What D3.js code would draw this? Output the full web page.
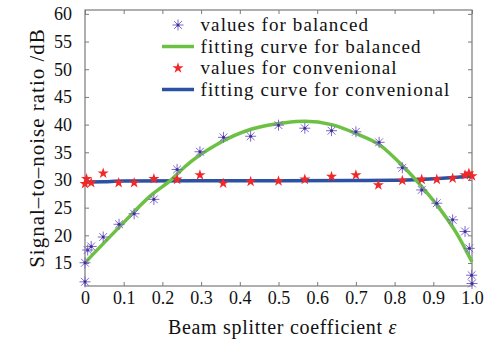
<!DOCTYPE html>
<html>
<head>
<meta charset="utf-8">
<script src="https://cdn.jsdelivr.net/npm/d3@7"></script>
<style>
  body { margin: 0; background: #fff; }
  text { font-family: "Liberation Serif", "Times New Roman", serif; fill: #111; }
</style>
</head>
<body>
<svg id="chart" width="500" height="340"></svg>
<script>
// measured values, balanced detection
const balX = [0, 0, 0.007, 0.016, 0.047, 0.088, 0.127, 0.178, 0.238, 0.297, 0.358, 0.428, 0.5, 0.568, 0.637, 0.70, 0.76, 0.82, 0.87, 0.909, 0.95, 0.982, 0.993, 0.999, 1.0];
const balY = [11.6, 15.05, 17.35, 18.0, 19.7, 22.0, 23.9, 26.5, 31.9, 35.1, 37.7, 37.9, 39.9, 39.35, 38.9, 38.7, 36.8, 32.2, 28.2, 25.8, 22.8, 20.7, 17.65, 12.8, 11.3];

// measured values, conventional detection
const convX = [0, 0.004, 0.016, 0.047, 0.087, 0.127, 0.178, 0.238, 0.297, 0.357, 0.428, 0.5, 0.568, 0.637, 0.70, 0.758, 0.82, 0.87, 0.909, 0.95, 0.982, 0.992, 1.0];
const convY = [29.3, 30.2, 29.5, 31.2, 29.5, 29.5, 30.2, 30.1, 30.9, 29.4, 29.7, 29.8, 30.1, 30.6, 30.9, 29.1, 29.9, 30.1, 30.1, 30.3, 30.9, 31.2, 30.7];

// fitting curves
const fitBalX = [0, 0.086, 0.172, 0.224, 0.258, 0.345, 0.431, 0.517, 0.568, 0.637, 0.70, 0.762, 0.82, 0.87, 0.909, 0.96, 1.0];
const fitBalY = [15.05, 21.3, 27.3, 30.1, 32.4, 36.6, 39.2, 40.35, 40.6, 40.0, 38.4, 36.3, 32.6, 28.8, 25.5, 20.4, 15.2];
const fitConvX = [0, 0.05, 0.1, 0.3, 0.5, 0.7, 0.8, 0.85, 0.9, 0.95, 1.0];
const fitConvY = [29.6, 29.7, 29.8, 29.85, 29.85, 29.9, 29.95, 30.05, 30.2, 30.45, 30.7];

const xTicks = [0, 0.1, 0.2, 0.3, 0.4, 0.5, 0.6, 0.7, 0.8, 0.9, 1.0];
const xTickLabels = ["0", "0.1", "0.2", "0.3", "0.4", "0.5", "0.6", "0.7", "0.8", "0.9", "1.0"];
const yTicks = [15, 20, 25, 30, 35, 40, 45, 50, 55, 60];

const legendLabels = ["values for balanced", "fitting curve for balanced", "values for convenional", "fitting curve for convenional"];

const colBal = "#7d68cc", colBalDot = "#3f2f8f", colGreen = "#6cc144", colRed = "#f02828", colBlue = "#2b51a3", colAxis = "#7a7a7a";

const margin = {top: 10, right: 28, bottom: 54, left: 85};
const width = 500, height = 340;

const svg = d3.select("#chart");

const x = d3.scaleLinear().domain([0, 1]).range([margin.left, width - margin.right]);
const y = d3.scaleLinear().domain([10.85, 60.7]).range([height - margin.bottom, margin.top]);

const zip = (a, b) => a.map((v, i) => [v, b[i]]);

// box + inward ticks on every side
const g = svg.append("g");
g.append("rect")
    .attr("x", x(0)).attr("y", y.range()[1])
    .attr("width", x(1) - x(0)).attr("height", y.range()[0] - y.range()[1])
    .attr("fill", "none").attr("stroke", colAxis).attr("stroke-width", 1.2);

const bottomAxis = d3.axisBottom(x).tickValues(xTicks).tickSize(-4).tickFormat((d, i) => xTickLabels[i]);
const topAxis = d3.axisTop(x).tickValues(xTicks).tickSize(-4).tickFormat("");
const leftAxis = d3.axisLeft(y).tickValues(yTicks).tickSize(-4);
const rightAxis = d3.axisRight(y).tickValues(yTicks).tickSize(-4).tickFormat("");

function styleAxis(sel){
    sel.select(".domain").remove();
    sel.selectAll(".tick line").attr("stroke", colAxis);
    sel.selectAll(".tick text").attr("font-family", null).attr("font-size", 18).attr("fill", "#111");
}

g.append("g").attr("transform", `translate(0,${y.range()[0]})`).call(bottomAxis).call(styleAxis)
    .selectAll(".tick text").attr("dy", "0.85em");
g.append("g").attr("transform", `translate(0,${y.range()[1]})`).call(topAxis).call(styleAxis);
g.append("g").attr("transform", `translate(${x(0)},0)`).call(leftAxis).call(styleAxis)
    .selectAll(".tick text").attr("x", -13);
g.append("g").attr("transform", `translate(${x(1)},0)`).call(rightAxis).call(styleAxis);

// axis titles
svg.append("text")
    .attr("x", (x(0) + x(1)) / 2 + 4).attr("y", 334)
    .attr("text-anchor", "middle").attr("font-size", 20).attr("letter-spacing", 0.7)
    .html('Beam splitter coefficient <tspan font-style="italic">ε</tspan>');
svg.append("text")
    .attr("transform", `translate(44,${(y.range()[0] + y.range()[1]) / 2}) rotate(-90)`)
    .attr("text-anchor", "middle").attr("font-size", 21).attr("letter-spacing", 1)
    .text("Signal–to–noise ratio /dB");

// fitting curves
const line = d3.line().x(d => x(d[0])).y(d => y(d[1])).curve(d3.curveMonotoneX);

const plot = svg.append("g");
plot.append("path").datum(zip(fitConvX, fitConvY))
    .attr("d", line).attr("fill", "none").attr("stroke", colBlue).attr("stroke-width", 3.5);
plot.append("path").datum(zip(fitBalX, fitBalY))
    .attr("d", line).attr("fill", "none").attr("stroke", colGreen).attr("stroke-width", 3.5);

// markers
const star = d3.symbol().type(d3.symbolStar).size(38);

function asterisk(sel, r){
    const a = r * Math.SQRT1_2;
    sel.append("path")
        .attr("d", `M${-r},0H${r}M0,${-r}V${r}M${-a},${-a}L${a},${a}M${-a},${a}L${a},${-a}`)
        .attr("stroke", colBal).attr("stroke-width", 1).attr("fill", "none");
    sel.append("circle").attr("r", 1.5).attr("fill", colBalDot);
}

plot.selectAll(".conv")
    .data(zip(convX, convY))
    .join("path")
    .attr("class", "conv")
    .attr("transform", d => `translate(${x(d[0])},${y(d[1])})`)
    .attr("d", star).attr("fill", colRed);

plot.selectAll(".bal")
    .data(zip(balX, balY))
    .join("g")
    .attr("class", "bal")
    .attr("transform", d => `translate(${x(d[0])},${y(d[1])})`)
    .each(function(){ asterisk(d3.select(this), 5.5); });

// legend
const legend = svg.append("g").attr("transform", "translate(162,0)");
const rowY = [25, 46.5, 68, 89.5];
legendLabels.forEach((t, i) => {
    const row = legend.append("g").attr("transform", `translate(0,${rowY[i]})`);
    if (i === 0) asterisk(row.append("g").attr("transform", "translate(16,0)"), 5.5);
    if (i === 2) row.append("path").attr("transform", "translate(16,0)").attr("d", star).attr("fill", colRed);
    if (i === 1 || i === 3)
        row.append("line").attr("x1", 0).attr("x2", 32)
            .attr("stroke", i === 1 ? colGreen : colBlue).attr("stroke-width", 3.5);
    row.append("text").attr("x", 38.5).attr("dy", "0.32em").attr("font-size", 19).attr("letter-spacing", 1.1).text(t);
});
</script>
</body>
</html>
